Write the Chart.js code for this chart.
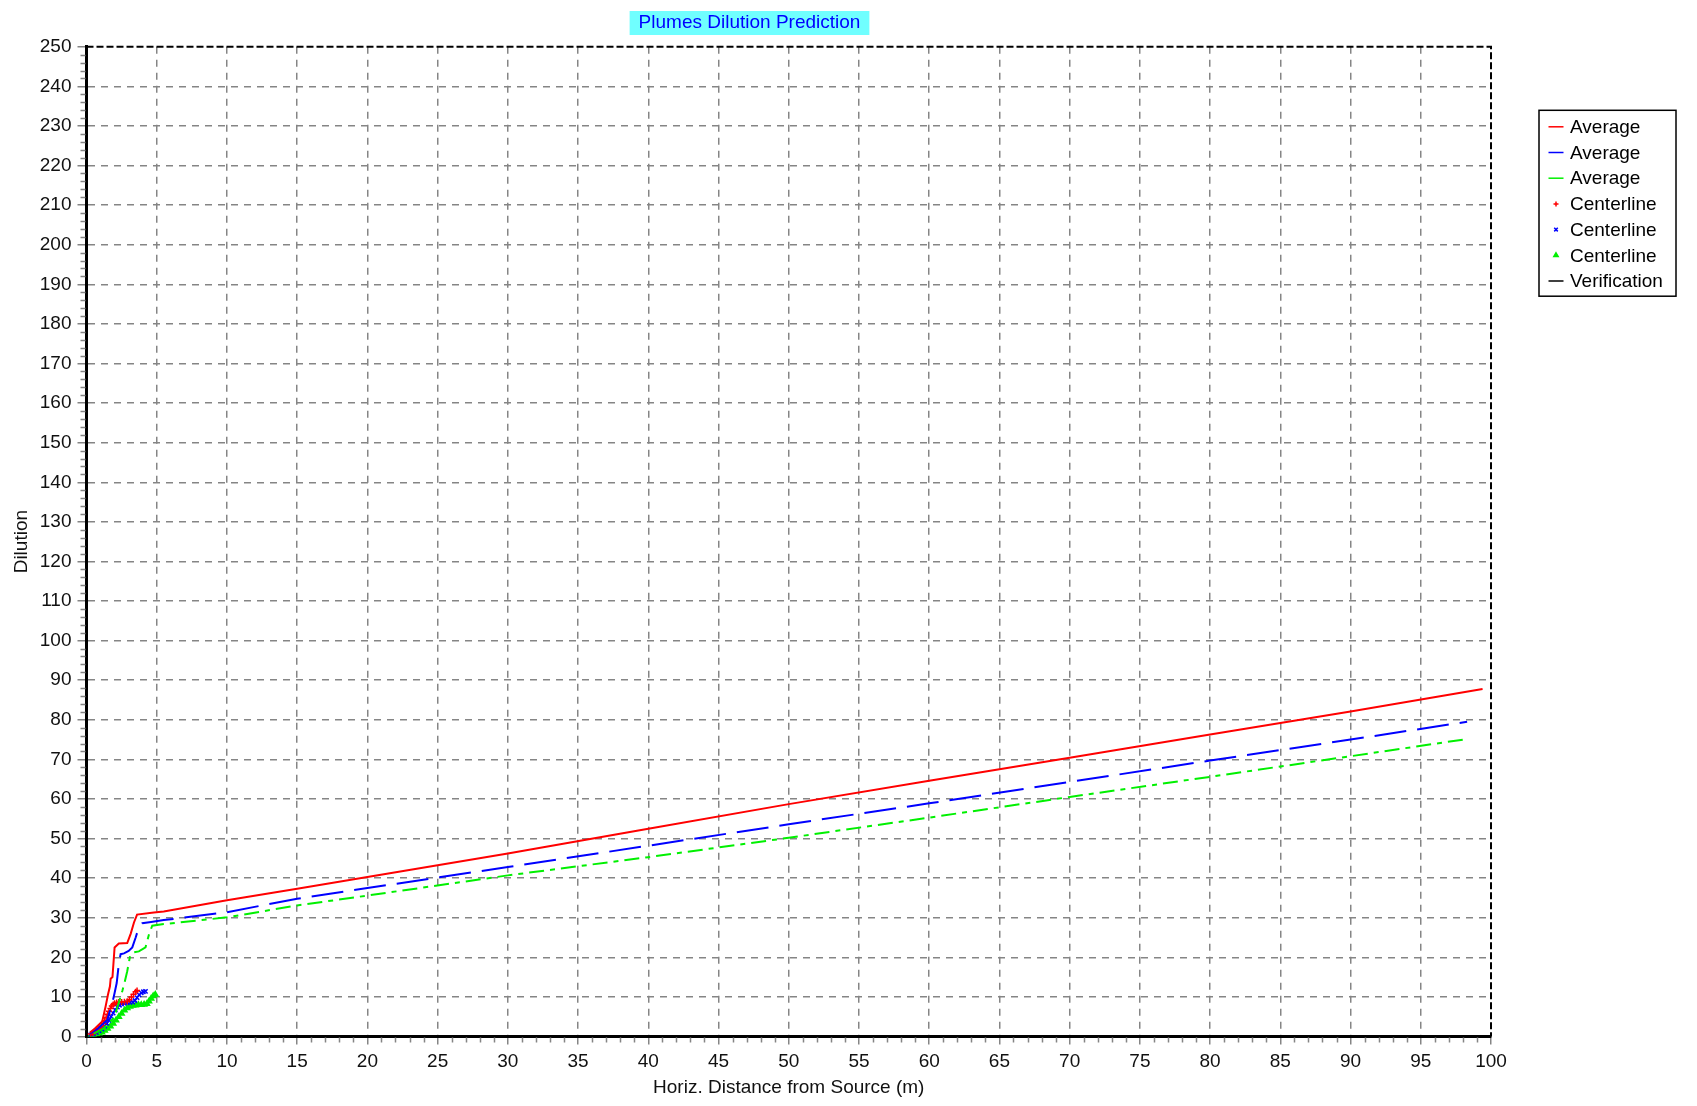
<!DOCTYPE html>
<html>
<head>
<meta charset="utf-8">
<title>Plumes Dilution Prediction</title>
<script src="https://cdn.jsdelivr.net/npm/chart.js@4/dist/chart.umd.min.js"></script>
<style>
  html, body { margin: 0; padding: 0; background: #ffffff; }
  canvas { display: block; }
</style>
</head>
<body>
<canvas id="plume" width="1697" height="1106"></canvas>
<script>
// ---- Text ----
const chartTitle = 'Plumes Dilution Prediction';
const xAxisTitle = 'Horiz. Distance from Source (m)';
const yAxisTitle = 'Dilution';
const seriesLabels = ['Average', 'Average', 'Average', 'Centerline', 'Centerline', 'Centerline', 'Verification'];

// ---- Axis ranges / tick spacing ----
const xMin = 0, xMax = 100, xMajorStep = 5, xMinorStep = 1;
const yMin = 0, yMax = 250, yMajorStep = 10, yMinorStep = 2;

// ---- Average dilution (three plumes) ----
const avgRedX   = [0.25, 0.6, 1.12, 1.36, 1.53, 1.67, 1.72, 1.85, 2.0, 2.3, 2.9, 3.15, 3.38, 3.6, 4.8, 5.5, 10, 15, 20, 30, 40, 50, 60, 70, 80, 90, 99.4];
const avgRedY   = [1.0, 2.0, 3.8, 7.6, 10.6, 12.7, 14.6, 15.0, 22.5, 23.5, 23.6, 26.0, 28.8, 30.8, 31.3, 31.6, 34.4, 37.3, 40.3, 46.2, 52.5, 58.7, 64.6, 70.4, 76.3, 82.1, 87.8];

const avgBlueX  = [0.25, 0.8, 1.48, 1.84, 2.0, 2.15, 2.31, 2.43, 2.67, 3.0, 3.26, 3.5, 3.73, 3.97, 4.6, 5.5, 10, 15, 20, 30, 40, 50, 60, 70, 80, 90, 98.3];
const avgBlueY  = [0.8, 2.0, 4.2, 8.5, 11.0, 13.5, 18.6, 20.8, 21.0, 21.6, 22.5, 25.0, 27.6, 28.6, 28.9, 29.4, 31.4, 34.8, 37.5, 42.8, 48.2, 53.6, 58.9, 64.3, 69.7, 75.0, 79.5];

const avgGreenX = [0.5, 1.2, 1.96, 2.26, 2.55, 2.7, 2.9, 3.1, 3.3, 3.73, 4.2, 4.45, 4.68, 5.5, 10, 15, 20, 30, 40, 50, 60, 70, 80, 90, 98.4];
const avgGreenY = [0.7, 2.0, 4.7, 8.1, 11.5, 13.5, 16.5, 20.3, 21.2, 21.5, 22.5, 25.8, 28.0, 28.4, 30.1, 33.1, 35.6, 40.7, 45.3, 50.2, 55.3, 60.5, 65.6, 70.8, 75.2];

// ---- Centerline dilution (three plumes) ----
const clRedX   = [0.3, 0.45, 0.6, 0.75, 0.9, 1.05, 1.2, 1.3, 1.4, 1.5, 1.6, 1.7, 1.8, 1.9, 2.0, 2.15, 2.3, 2.5, 2.7, 2.9, 3.05, 3.2, 3.35, 3.5, 3.6];
const clRedY   = [0.6, 0.9, 1.2, 1.6, 2.0, 2.6, 3.3, 4.0, 4.8, 5.6, 6.4, 7.1, 7.7, 8.1, 8.4, 8.6, 8.7, 8.7, 8.8, 8.9, 9.3, 10.0, 10.7, 11.3, 11.6];

const clBlueX  = [0.3, 0.5, 0.7, 0.9, 1.1, 1.3, 1.45, 1.6, 1.75, 1.9, 2.05, 2.2, 2.35, 2.5, 2.7, 2.9, 3.1, 3.3, 3.45, 3.6, 3.75, 3.9, 4.05, 4.2];
const clBlueY  = [0.4, 0.7, 1.0, 1.4, 1.9, 2.6, 3.3, 4.1, 5.0, 5.9, 6.7, 7.4, 7.9, 8.2, 8.4, 8.5, 8.6, 8.7, 9.1, 9.8, 10.5, 11.0, 11.3, 11.4];

const clGreenX = [0.3, 0.5, 0.7, 0.9, 1.1, 1.3, 1.5, 1.7, 1.9, 2.1, 2.3, 2.5, 2.7, 2.9, 3.1, 3.3, 3.5, 3.7, 3.9, 4.1, 4.3, 4.45, 4.6, 4.75, 4.9];
const clGreenY = [0.2, 0.4, 0.6, 0.8, 1.1, 1.5, 2.0, 2.6, 3.3, 4.1, 5.0, 5.8, 6.6, 7.2, 7.6, 7.8, 7.9, 8.0, 8.0, 8.1, 8.3, 8.9, 9.6, 10.2, 10.6];

// ---- Verification (no observations) ----
const verifyX = [];
const verifyY = [];

const toPoints = (xs, ys) => xs.map((x, i) => ({ x: x, y: ys[i] }));

const RED = 'rgb(255,0,0)', BLUE = 'rgb(0,0,255)', GREEN = 'rgb(0,240,0)';
const FONT = '"Liberation Sans", Arial, sans-serif';
const GRID = '#858585';

const lineSet = (label, xs, ys, color, dash) => ({
  label, data: toPoints(xs, ys), borderColor: color, backgroundColor: color,
  borderWidth: 2, borderDash: dash, pointRadius: 0, showLine: true, tension: 0, fill: false
});
const markerSet = (label, xs, ys, color, style, r) => ({
  label, data: toPoints(xs, ys), borderColor: color, backgroundColor: color,
  showLine: false, pointStyle: style, pointRadius: r, pointBorderWidth: 1.5, pointHoverRadius: r
});

// Dashed black frame on the top and right edges, plus minor tick marks.
const plotFrame = {
  id: 'plotFrame',
  beforeDatasetsDraw(chart) {
    const { ctx, chartArea: a, scales: { x, y } } = chart;
    ctx.save();
    ctx.strokeStyle = GRID;
    ctx.lineWidth = 1.5;
    ctx.beginPath();
    for (let v = yMin; v <= yMax; v += yMinorStep) {
      if (v % yMajorStep === 0) continue;
      const py = Math.round(y.getPixelForValue(v)) + 0.5;
      ctx.moveTo(a.left - 6, py); ctx.lineTo(a.left - 1, py);
    }
    for (let v = xMin; v <= xMax; v += xMinorStep) {
      if (v % xMajorStep === 0) continue;
      const px = Math.round(x.getPixelForValue(v)) + 0.5;
      ctx.moveTo(px, a.bottom + 1); ctx.lineTo(px, a.bottom + 6);
    }
    ctx.stroke();
    ctx.strokeStyle = '#000';
    ctx.lineWidth = 2;
    ctx.setLineDash([7, 3]);
    ctx.beginPath();
    ctx.moveTo(a.left, a.top);
    ctx.lineTo(a.right, a.top);
    ctx.lineTo(a.right, a.bottom);
    ctx.stroke();
    ctx.restore();
  }
};

// Cyan band behind the chart title.
const titleBand = {
  id: 'titleBand',
  beforeDraw(chart) {
    const t = chart.titleBlock;
    if (!t) return;
    const ctx = chart.ctx;
    const font = Chart.helpers.toFont(chart.options.plugins.title.font);
    ctx.save();
    ctx.font = font.string;
    const w = ctx.measureText(chartTitle).width;
    const cx = t.left + t.width / 2;
    ctx.fillStyle = '#70ffff';
    ctx.fillRect(cx - w / 2 - 9, t.top + 11, w + 18, 24);
    ctx.restore();
  }
};

// Boxed legend at the upper right.
const boxedLegend = {
  id: 'boxedLegend',
  afterDraw(chart) {
    const ctx = chart.ctx;
    const a = chart.chartArea;
    const left = a.right + 48, top = a.top + 63.5, width = 137, rowH = 25.7;
    const sets = chart.data.datasets;
    const height = rowH * sets.length + 6;
    ctx.save();
    ctx.fillStyle = '#fff';
    ctx.fillRect(left, top, width, height);
    ctx.strokeStyle = '#000';
    ctx.lineWidth = 1.5;
    ctx.strokeRect(left, top, width, height);
    ctx.font = '19px ' + FONT;
    ctx.textBaseline = 'middle';
    ctx.textAlign = 'left';
    sets.forEach((ds, i) => {
      const cy = top + 16.5 + i * rowH;
      if (ds.showLine) {
        ctx.strokeStyle = ds.borderColor;
        ctx.lineWidth = 1.5;
        ctx.setLineDash([]);
        ctx.beginPath();
        ctx.moveTo(left + 9.5, cy);
        ctx.lineTo(left + 24.5, cy);
        ctx.stroke();
      } else {
        ctx.fillStyle = ds.backgroundColor;
        ctx.strokeStyle = ds.borderColor;
        Chart.helpers.drawPoint(ctx, { pointStyle: ds.pointStyle, radius: 2.5, borderWidth: 1.5, rotation: 0 }, left + 17, cy);
      }
      ctx.fillStyle = '#000';
      ctx.fillText(seriesLabels[i], left + 31, cy + 1);
    });
    ctx.restore();
  }
};

const datasets = [
  lineSet(seriesLabels[0], avgRedX, avgRedY, RED, []),
  lineSet(seriesLabels[1], avgBlueX, avgBlueY, BLUE, [32, 11]),
  lineSet(seriesLabels[2], avgGreenX, avgGreenY, GREEN, [15, 6, 5, 6]),
  markerSet(seriesLabels[3], clRedX, clRedY, RED, 'cross', 3),
  markerSet(seriesLabels[4], clBlueX, clBlueY, BLUE, 'crossRot', 3),
  markerSet(seriesLabels[5], clGreenX, clGreenY, GREEN, 'triangle', 3),
  lineSet(seriesLabels[6], verifyX, verifyY, '#000', [])
];

new Chart(document.getElementById('plume'), {
  type: 'scatter',
  data: { datasets },
  plugins: [titleBand, plotFrame, boxedLegend],
  options: {
    responsive: false,
    animation: false,
    devicePixelRatio: 1,
    layout: { padding: { left: 8, right: 206, top: 0, bottom: 0 } },
    plugins: {
      legend: { display: false },
      tooltip: { enabled: false },
      title: {
        display: true,
        text: chartTitle,
        color: '#0000ff',
        font: { family: FONT, size: 19, weight: 'normal' },
        padding: { top: 11.5, bottom: 12.5 }
      }
    },
    scales: {
      x: {
        type: 'linear',
        min: xMin, max: xMax,
        afterFit: (s) => { s.height = 69.5; },
        ticks: { stepSize: xMajorStep, autoSkip: false, maxRotation: 0, color: '#111', padding: 6,
                 font: { family: FONT, size: 19 } },
        grid: {
          color: (c) => (c.tick && c.tick.value === xMax) ? 'rgba(0,0,0,0)' : GRID,
          lineWidth: 1.5, tickColor: GRID, tickLength: 8, tickWidth: 1.5, drawTicks: true
        },
        border: { display: true, color: '#000', width: 3, dash: [7, 6] },
        title: { display: true, text: xAxisTitle, color: '#111', font: { family: FONT, size: 19 },
                 padding: { top: 0, bottom: 7 } }
      },
      y: {
        type: 'linear',
        min: yMin, max: yMax,
        afterFit: (s) => { s.width = 78.5; },
        ticks: { stepSize: yMajorStep, autoSkip: false, color: '#111', padding: 6,
                 font: { family: FONT, size: 19 } },
        grid: {
          color: (c) => (c.tick && c.tick.value === yMax) ? 'rgba(0,0,0,0)' : GRID,
          lineWidth: 1.5, tickColor: GRID, tickLength: 9, tickWidth: 1.5, drawTicks: true
        },
        border: { display: true, color: '#000', width: 3, dash: [7, 6] },
        title: { display: true, text: yAxisTitle, color: '#111', font: { family: FONT, size: 19 },
                 padding: { top: 2, bottom: 0 } }
      }
    }
  }
});
</script>
</body>
</html>
